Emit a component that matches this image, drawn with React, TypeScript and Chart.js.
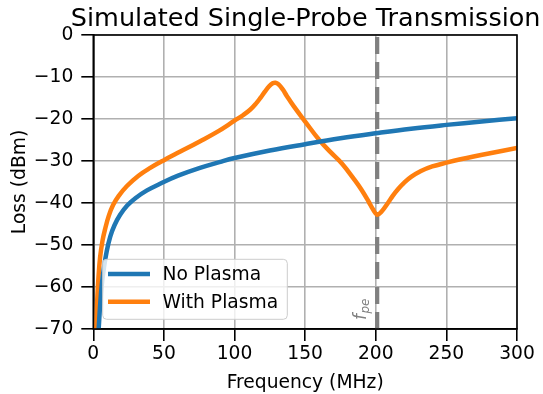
import { useEffect, useRef } from "react";
import { Chart, registerables } from "chart.js";

Chart.register(...registerables);

// ---- data ----
const noPlasmaFreq = [3.8, 5, 6, 7.5, 9.5, 12, 15, 19, 24, 30, 38, 48, 60, 75, 90, 100, 125, 150, 175, 200, 225, 250, 275, 300];
const noPlasmaLoss = [-70, -63.5, -59.5, -55.5, -51.5, -48, -45.3, -42.8, -40.6, -38.8, -37, -35.3, -33.5, -31.7, -30.2, -29.3, -27.5, -26, -24.6, -23.4, -22.3, -21.4, -20.6, -19.8];

const withPlasmaFreq = [2.1, 2.8, 3.6, 4.8, 6.5, 8.5, 11, 14, 18, 24, 32, 40, 50, 62, 75, 88, 100, 106, 111, 115, 118.5, 121.5, 124.5, 127, 129, 131, 134, 137, 142, 150, 160, 168, 176, 185, 190, 195, 198, 201, 204, 208.6, 212, 216, 220, 225, 232, 240, 250, 260, 280, 300];
const withPlasmaLoss = [-70, -63, -58, -53, -49, -46, -43, -40.5, -38.3, -35.9, -33.5, -31.7, -29.8, -27.7, -25.4, -23, -20.4, -19.1, -17.8, -16.4, -14.9, -13.5, -12.2, -11.5, -11.35, -11.7, -12.9, -14.5, -17, -20.6, -25, -27.9, -30.6, -34.5, -36.9, -39.7, -41.5, -42.8, -42.1, -40, -38.3, -36.6, -35.2, -33.8, -32.4, -31.3, -30.4, -29.6, -28.2, -26.9];

const seriesNames = ["No Plasma", "With Plasma"];
const seriesColors = ["#1f77b4", "#ff7f0e"];
const fpe = 201;
const fpeLabelMain = "f";
const fpeLabelSub = "pe";
const titleText = "Simulated Single-Probe Transmission";
const xLabel = "Frequency (MHz)";
const yLabel = "Loss (dBm)";
const xRange = [0, 300];
const yRange = [-70, 0];
const xStep = 50;
const yStep = 10;

const FONT = "'DejaVu Sans', 'Liberation Sans', sans-serif";

export default function App() {
  const ref = useRef<HTMLCanvasElement>(null);

  useEffect(() => {
    document.body.style.margin = "0";
    const canvas = ref.current;
    if (!canvas) return;

    const overlay = {
      id: "overlay",
      beforeDatasetsDraw(chart: any) {
        const { ctx, chartArea: a, scales } = chart;
        const px = scales.x.getPixelForValue(fpe);
        ctx.save();
        ctx.strokeStyle = "#808080";
        ctx.lineWidth = 4.2;
        ctx.setLineDash([17, 8]);
        ctx.beginPath();
        ctx.moveTo(px, a.bottom);
        ctx.lineTo(px, a.top);
        ctx.stroke();
        ctx.restore();
      },
      afterDatasetsDraw(chart: any) {
        const { ctx, chartArea: a, scales } = chart;
        ctx.save();
        // spines
        ctx.strokeStyle = "#000";
        ctx.lineWidth = 1.6;
        ctx.strokeRect(a.left, a.top, a.right - a.left, a.bottom - a.top);

        // f_pe label (rotated)
        const px = scales.x.getPixelForValue(fpe);
        ctx.save();
        ctx.translate(px - 11.5, a.bottom - 9);
        ctx.rotate(-Math.PI / 2);
        ctx.fillStyle = "#808080";
        ctx.textBaseline = "alphabetic";
        ctx.textAlign = "left";
        ctx.font = `oblique 17px ${FONT}`;
        ctx.fillText(fpeLabelMain, 0, 0);
        const wf = ctx.measureText(fpeLabelMain).width;
        ctx.font = `oblique 12px ${FONT}`;
        ctx.fillText(fpeLabelSub, wf + 0.5, 3.5);
        ctx.restore();

        // legend
        const lx = 102.7, ly = 259.3, lw = 184.6, lh = 60, r = 4;
        ctx.beginPath();
        ctx.moveTo(lx + r, ly);
        ctx.lineTo(lx + lw - r, ly);
        ctx.quadraticCurveTo(lx + lw, ly, lx + lw, ly + r);
        ctx.lineTo(lx + lw, ly + lh - r);
        ctx.quadraticCurveTo(lx + lw, ly + lh, lx + lw - r, ly + lh);
        ctx.lineTo(lx + r, ly + lh);
        ctx.quadraticCurveTo(lx, ly + lh, lx, ly + lh - r);
        ctx.lineTo(lx, ly + r);
        ctx.quadraticCurveTo(lx, ly, lx + r, ly);
        ctx.closePath();
        ctx.fillStyle = "rgba(255,255,255,0.8)";
        ctx.fill();
        ctx.strokeStyle = "#cccccc";
        ctx.lineWidth = 1;
        ctx.stroke();
        const rows = [274, 301.7];
        seriesNames.forEach((name, i) => {
          ctx.strokeStyle = seriesColors[i];
          ctx.lineWidth = 4.5;
          ctx.beginPath();
          ctx.moveTo(108, rows[i]);
          ctx.lineTo(150, rows[i]);
          ctx.stroke();
          ctx.fillStyle = "#000";
          ctx.font = `18.7px ${FONT}`;
          ctx.textAlign = "left";
          ctx.textBaseline = "middle";
          ctx.fillText(name, 162.5, rows[i] + 1);
        });
        ctx.restore();
      },
      afterDraw(chart: any) {
        const { ctx, chartArea: a } = chart;
        const cx = (a.left + a.right) / 2;
        ctx.save();
        ctx.fillStyle = "#000";
        ctx.textAlign = "center";
        ctx.textBaseline = "alphabetic";
        ctx.font = `25.5px ${FONT}`;
        ctx.fillText(titleText, cx + 0.5, 26);
        ctx.font = `18.7px ${FONT}`;
        ctx.fillText(xLabel, cx, 387.6);
        ctx.save();
        ctx.translate(25.3, (a.top + a.bottom) / 2);
        ctx.rotate(-Math.PI / 2);
        ctx.fillText(yLabel, 0, 0);
        ctx.restore();
        ctx.restore();
      },
    };

    const toPts = (xs: number[], ys: number[]) => xs.map((x, i) => ({ x, y: ys[i] }));

    const chart = new Chart(canvas, {
      type: "line",
      data: {
        datasets: [
          {
            label: seriesNames[0],
            data: toPts(noPlasmaFreq, noPlasmaLoss),
            borderColor: seriesColors[0],
            borderWidth: 4.5,
            pointRadius: 0,
            fill: false,
            tension: 0.4,
            borderCapStyle: "round",
            borderJoinStyle: "round",
          },
          {
            label: seriesNames[1],
            data: toPts(withPlasmaFreq, withPlasmaLoss),
            borderColor: seriesColors[1],
            borderWidth: 4.5,
            pointRadius: 0,
            fill: false,
            tension: 0.4,
            borderCapStyle: "round",
            borderJoinStyle: "round",
          },
        ],
      },
      options: {
        responsive: false,
        animation: false,
        devicePixelRatio: 1,
        layout: { padding: { top: 35, right: 26, left: 0, bottom: 0 } },
        plugins: {
          legend: { display: false },
          title: { display: false },
          tooltip: { enabled: false },
        },
        scales: {
          x: {
            type: "linear",
            min: xRange[0],
            max: xRange[1],
            ticks: {
              stepSize: xStep,
              color: "#000",
              font: { family: FONT, size: 18.7 },
              padding: 2,
              maxRotation: 0,
            },
            grid: {
              color: "#b0b0b0",
              lineWidth: 1.6,
              tickLength: 12,
              tickColor: "#000",
              tickWidth: 1.6,
            },
            border: { color: "#000", width: 1.6 },
            afterFit(scale: any) {
              scale.height = 65;
            },
          },
          y: {
            type: "linear",
            min: yRange[0],
            max: yRange[1],
            ticks: {
              stepSize: yStep,
              color: "#000",
              font: { family: FONT, size: 18.7 },
              padding: 8,
              callback: (v: any) => String(v).replace("-", "\u2212"),
            },
            grid: {
              color: "#b0b0b0",
              lineWidth: 1.6,
              tickLength: 12,
              tickColor: "#000",
              tickWidth: 1.6,
            },
            border: { color: "#000", width: 1.6 },
            afterFit(scale: any) {
              scale.width = 93.3;
            },
          },
        },
      },
      plugins: [overlay],
    });

    return () => chart.destroy();
  }, []);

  return (
    <div style={{ position: "fixed", left: 0, top: 0, width: 543, height: 394 }}>
      <canvas ref={ref} width={543} height={394} style={{ width: 543, height: 394, display: "block" }} />
    </div>
  );
}
